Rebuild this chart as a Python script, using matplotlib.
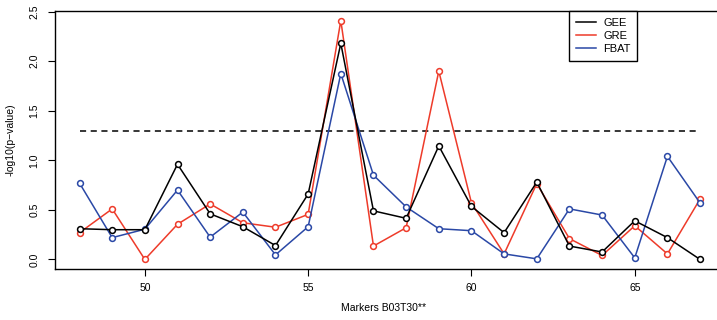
import matplotlib
matplotlib.use("Agg")
import matplotlib.pyplot as plt
from matplotlib.lines import Line2D

markers = list(range(48, 68))
gee = [0.31, 0.30, 0.30, 0.96, 0.46, 0.33, 0.14, 0.66, 2.18, 0.49,
       0.415, 1.145, 0.535, 0.27, 0.78, 0.135, 0.075, 0.39, 0.22, 0.00]
gre = [0.27, 0.51, 0.00, 0.355, 0.56, 0.37, 0.325, 0.455, 2.41, 0.135,
       0.32, 1.90, 0.57, 0.056, 0.765, 0.21, 0.04, 0.34, 0.056, 0.61]
fbat = [0.77, 0.22, 0.305, 0.70, 0.225, 0.478, 0.046, 0.33, 1.875, 0.85,
        0.53, 0.31, 0.29, 0.056, 0.006, 0.51, 0.448, 0.016, 1.04, 0.57]
threshold = 1.3
xticks = [50, 55, 60, 65]
yticks = [0.0, 0.5, 1.0, 1.5, 2.0, 2.5]

plt.rcParams['font.family'] = ['Liberation Sans', 'DejaVu Sans']

W, H = 717, 320
fig = plt.figure(figsize=(W / 100, H / 100), dpi=100)
left, right, top, bottom = 54.7, 724.9, 11, 269
ax = fig.add_axes([left / W, 1 - bottom / H, (right - left) / W, (bottom - top) / H])

c_gee, c_gre, c_fbat = '#000000', '#EE3B2A', '#2A48A6'
kw = dict(marker='o', markersize=4.2, markerfacecolor='white', markeredgewidth=1.1,
          linewidth=1.1)
ax.plot(markers, gre, color=c_gre, label='GRE', zorder=3, **kw)
ax.plot(markers, fbat, color=c_fbat, label='FBAT', zorder=4, **kw)
ax.plot(markers, gee, color=c_gee, label='GEE', zorder=5, **kw)
ax.plot([markers[0], markers[-1]], [threshold, threshold], color='black',
        linestyle=(0, (4, 3)), linewidth=1.1, zorder=2)

xr = markers[-1] - markers[0]
ax.set_xlim(markers[0] - 0.04 * xr, markers[-1] + 0.04 * xr)
ymax = max(gre)
ax.set_ylim(-0.04 * ymax, ymax * 1.04)

ax.set_xticks(xticks)
ax.set_xticklabels([str(t) for t in xticks], fontsize=7.5)
ax.set_yticks(yticks)
ax.set_yticklabels([f"{t:.1f}" for t in yticks], fontsize=7.5, rotation=90, va='center')
ax.tick_params(direction='out', length=5, width=0.8, pad=5)
ax.tick_params(axis='y', pad=6)

for s in ax.spines.values():
    s.set_linewidth(1.0)

ax.set_ylabel('-log10(p\u2212value)', fontsize=7.5, labelpad=10)
fig.text(384 / W, 1 - 308 / H, 'Markers B03T30**', fontsize=7.5, ha='center', va='center')

handles, labels = ax.get_legend_handles_labels()
order = [labels.index('GEE'), labels.index('GRE'), labels.index('FBAT')]
lh = [Line2D([], [], color=handles[i].get_color(), linewidth=1.1) for i in order]
leg = ax.legend(lh, [labels[i] for i in order], loc='upper left',
                bbox_to_anchor=((569 - left) / (right - left), 1.0),
                fontsize=8, frameon=True, fancybox=False, edgecolor='black',
                framealpha=1, borderpad=0.6, labelspacing=0.3, handlelength=1.8,
                handletextpad=0.7, borderaxespad=0)
leg.get_frame().set_linewidth(1.0)

fig.savefig('out.png', dpi=100)
